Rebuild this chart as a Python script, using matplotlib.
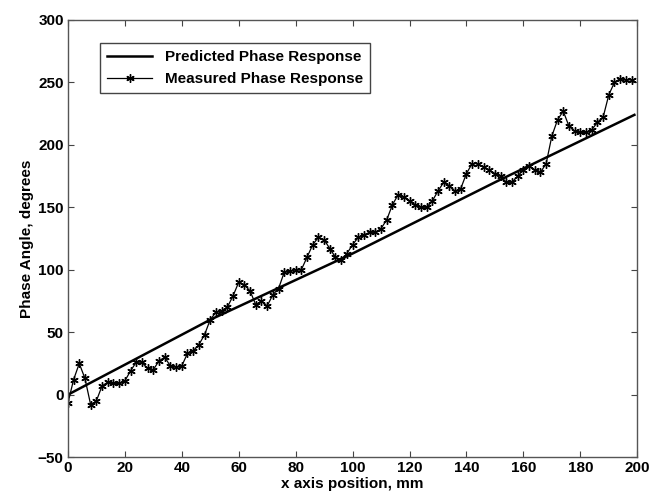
import numpy as np
import matplotlib
matplotlib.use('Agg')
import matplotlib.pyplot as plt

# measured phase (every 2 mm)
x_meas = np.arange(0, 200, 2)
y_meas = [-7, 12, 25, 13, -8, -5, 7, 10, 9, 9,
          11, 19, 26, 26, 21, 20, 27, 30, 23, 22,
          23, 33, 35, 40, 48, 60, 66, 67, 70, 79,
          90, 88, 83, 72, 75, 71, 80, 85, 98, 99,
          100, 100, 110, 120, 126, 124, 117, 110, 108, 113,
          120, 126, 128, 130, 130, 133, 140, 152, 160, 158,
          155, 152, 150, 150, 155, 163, 170, 167, 163, 165,
          177, 185, 185, 182, 180, 177, 175, 170, 170, 175,
          180, 183, 180, 178, 185, 207, 220, 227, 215, 211,
          210, 210, 212, 218, 222, 240, 250, 253, 252, 252]

# predicted phase
x_pred = [0, 50, 100, 150, 199]
y_pred = [0, 60, 113, 170, 224]

plt.rcParams['font.family'] = 'Liberation Sans'
plt.rcParams['font.weight'] = 'bold'

fig = plt.figure(figsize=(6.59, 4.98), dpi=100)
ax = fig.add_axes([0.103, 0.082, 0.864, 0.878])

ax.plot(x_pred, y_pred, color='black', lw=1.8, label='Predicted Phase Response')
ax.plot(x_meas, y_meas, color='black', lw=0.9, marker=(6, 2, 0), markersize=6,
        markeredgewidth=1.0, label='Measured Phase Response')

ax.set_xlim(0, 200)
ax.set_ylim(-50, 300)
ax.set_xticks(np.arange(0, 201, 20))
ax.set_yticks(np.arange(-50, 301, 50))
ax.tick_params(direction='in', top=True, right=True, length=4, labelsize=11,
               color='#444', pad=3)
for s in ax.spines.values():
    s.set_color('#555')
    s.set_linewidth(1.0)

ax.set_xlabel('x axis position, mm', fontsize=11, fontweight='bold', labelpad=1)
ax.set_ylabel('Phase Angle, degrees', fontsize=11, fontweight='bold', labelpad=3)

leg = ax.legend(loc='upper left', bbox_to_anchor=(0.056, 0.947), borderaxespad=0,
                fancybox=False, edgecolor='#444', fontsize=11, handlelength=3,
                framealpha=1, borderpad=0.45, labelspacing=0.55)
leg.get_frame().set_linewidth(1.0)

fig.savefig('out.png', dpi=100)
